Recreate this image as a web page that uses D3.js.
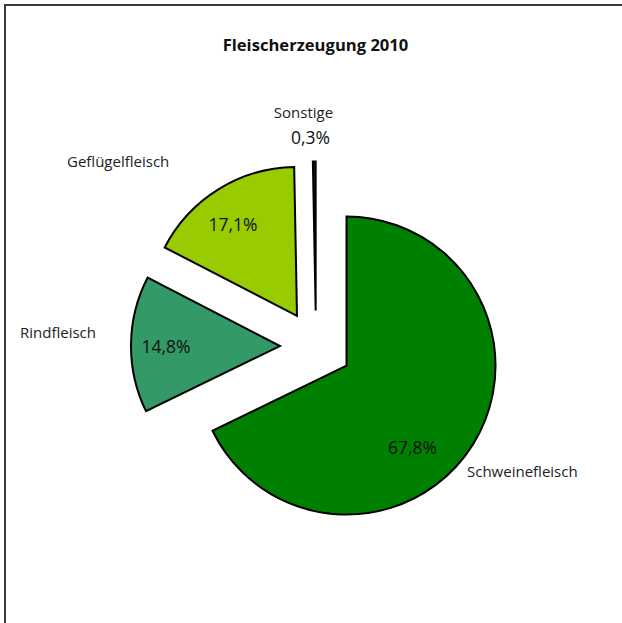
<!DOCTYPE html>
<html lang="de">
<head>
<meta charset="UTF-8">
<title>Fleischerzeugung 2010</title>
<script src="https://d3js.org/d3.v7.min.js"></script>
<style>
    body { margin: 0; background: #fff; }
    svg text { font-family: "Open Sans", "Noto Sans", sans-serif; }
</style>
</head>
<body>
<div id="chart"></div>
<script>
    // data
    const categories = ["Schweinefleisch", "Rindfleisch", "Geflügelfleisch", "Sonstige"];
    const shares = [67.8, 14.8, 17.1, 0.3];
    const colors = ["#008000", "#339966", "#99cc00", "#1a1a1a"];

    const W = 622, H = 623;
    const cx = 316, cy = 346.5, radius = 149, explode = 36;

    // label nudges (layout only)
    const pctNudge = {
        "Schweinefleisch": [-29, 23],
        "Rindfleisch": [-2, 2],
        "Geflügelfleisch": [-5, 4]
    };
    const nameLabels = {
        "Schweinefleisch": {x: 467, y: 477, anchor: "start"},
        "Rindfleisch": {x: 20, y: 338, anchor: "start"},
        "Geflügelfleisch": {x: 67, y: 167, anchor: "start"},
        "Sonstige": {x: 303.5, y: 118, anchor: "middle"}
    };

    const data = categories.map((c, i) => ({name: c, value: shares[i], color: colors[i]}));

    const svg = d3.select("#chart").append("svg")
        .attr("width", W)
        .attr("height", H);

    // frame (only top and left edges are visible)
    svg.append("path")
        .attr("d", `M5,${H + 5} L5,5 L${W + 5},5`)
        .attr("fill", "none")
        .attr("stroke", "#3a3a3a")
        .attr("stroke-width", 2);

    svg.append("text")
        .attr("x", 315.5)
        .attr("y", 51)
        .attr("text-anchor", "middle")
        .style("font-weight", "bold")
        .style("font-size", "16.6px")
        .attr("fill", "#111")
        .text("Fleischerzeugung 2010");

    const pie = d3.pie().sort(null).value(d => d.value);
    const arc = d3.arc().innerRadius(0).outerRadius(radius);
    const arcs = pie(data);

    const g = svg.append("g").attr("transform", `translate(${cx},${cy})`);

    const offset = (d, dist) => {
        const a = (d.startAngle + d.endAngle) / 2;
        return [Math.sin(a) * dist, -Math.cos(a) * dist];
    };

    const slices = g.selectAll(".slice")
        .data(arcs)
        .enter().append("g")
        .attr("class", "slice")
        .attr("transform", d => {
            const [dx, dy] = offset(d, explode);
            return `translate(${dx},${dy})`;
        });

    slices.append("path")
        .attr("d", arc)
        .attr("fill", d => d.data.color)
        .attr("stroke", "#000")
        .attr("stroke-width", 2)
        .attr("stroke-linejoin", "miter");

    // percentage labels
    slices.filter(d => d.data.name !== "Sonstige").append("text")
        .attr("transform", d => {
            const [x, y] = offset(d, 112);
            const n = pctNudge[d.data.name] || [0, 0];
            return `translate(${x + n[0]},${y + n[1]})`;
        })
        .attr("text-anchor", "middle")
        .attr("dy", "0.35em")
        .style("font-size", "17.5px")
        .attr("fill", "#111")
        .text(d => d3.format(".1f")(d.data.value).replace(".", ",") + "%");

    // category labels
    svg.selectAll(".name")
        .data(arcs)
        .enter().append("text")
        .attr("class", "name")
        .attr("x", d => nameLabels[d.data.name].x)
        .attr("y", d => nameLabels[d.data.name].y)
        .attr("text-anchor", d => nameLabels[d.data.name].anchor)
        .style("font-size", "15px")
        .attr("fill", "#222")
        .text(d => d.data.name);

    // Sonstige value sits under its name
    const small = arcs.find(d => d.data.name === "Sonstige");
    svg.append("text")
        .attr("x", 310.5)
        .attr("y", 144)
        .attr("text-anchor", "middle")
        .style("font-size", "17.5px")
        .attr("fill", "#111")
        .text(d3.format(".1f")(small.data.value).replace(".", ",") + "%");
</script>
</body>
</html>
